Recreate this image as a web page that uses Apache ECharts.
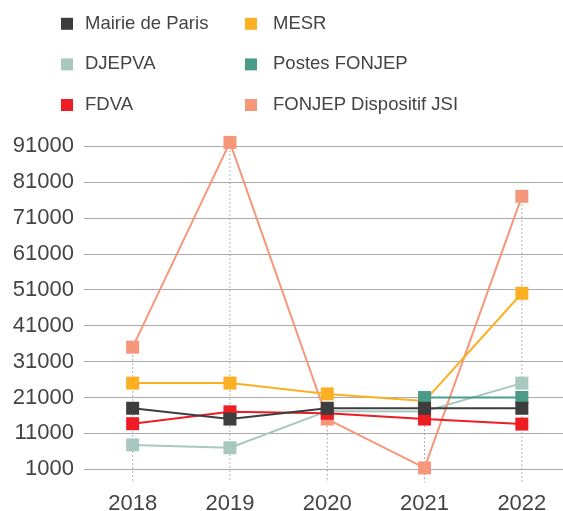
<!DOCTYPE html>
<html><head><meta charset="utf-8">
<script src="https://cdn.jsdelivr.net/npm/echarts@6/dist/echarts.min.js"></script>
<style>html,body{margin:0;padding:0;background:#fff}#c{width:563px;height:511px}</style>
</head><body><div id="c"></div>
<script>
// ---- data ----
const years = ['2018', '2019', '2020', '2021', '2022'];
const mairie = [18000, 15000, 18000, 18000, 18000];
const mesr = [25000, 25000, 22000, 20000, 50000];
const djepva = [7800, 7000, 17200, 17100, 25000];
const postes = [null, null, null, 21000, 21000];
const fdva = [13700, 17000, 16600, 15000, 13600];
const jsi = [35000, 92000, 15000, 1400, 77000];
const yMin = 1000, yMax = 91000, yStep = 10000;
const legendCol1 = ['Mairie de Paris', 'DJEPVA', 'FDVA'];
const legendCol2 = ['MESR', 'Postes FONJEP', 'FONJEP Dispositif JSI'];

const FONT = 'Liberation Sans, Arial, Helvetica, sans-serif';
const defs = [
  {name: 'Mairie de Paris', data: mairie, color: '#3d3d3d', z: 7},
  {name: 'MESR', data: mesr, color: '#fbb024', z: 4},
  {name: 'DJEPVA', data: djepva, color: '#a8c8bf', z: 2},
  {name: 'Postes FONJEP', data: postes, color: '#4a9c89', z: 5},
  {name: 'FDVA', data: fdva, color: '#ee1c25', z: 6},
  {name: 'FONJEP Dispositif JSI', data: jsi, color: '#f5977a', z: 3}
];
const maxVals = years.map((_, i) => Math.max(...defs.map(d => d.data[i]).filter(v => v != null)));

const lineSeries = defs.map(d => ({
  name: d.name, type: 'line', data: d.data, z: d.z, clip: false,
  symbol: 'rect', symbolSize: 13, showAllSymbol: true,
  itemStyle: {color: d.color, opacity: 1},
  lineStyle: {color: d.color, width: 2},
  emphasis: {disabled: true}
}));

const legendBase = {
  orient: 'vertical', icon: 'rect', itemWidth: 12, itemHeight: 12, itemGap: 20.6,
  selectedMode: false, top: 8.8,
  textStyle: {fontFamily: FONT, fontSize: 18.5, color: '#444', lineHeight: 20}
};

const chart = echarts.init(document.getElementById('c'), null, {renderer: 'canvas'});
chart.setOption({
  animation: false,
  backgroundColor: '#fff',
  legend: [
    Object.assign({}, legendBase, {left: 56, data: legendCol1,
      textStyle: Object.assign({}, legendBase.textStyle, {padding: [0, 0, 0, 7]})}),
    Object.assign({}, legendBase, {left: 240, data: legendCol2,
      textStyle: Object.assign({}, legendBase.textStyle, {padding: [0, 0, 0, 11]})})
  ],
  grid: {left: 84, width: 486.5, top: 146, bottom: 41.67, containLabel: false,
    outerBoundsMode: 'none'},
  xAxis: {
    type: 'category', data: years, boundaryGap: true,
    axisLine: {show: false}, axisTick: {show: false}, splitLine: {show: false},
    axisLabel: {fontFamily: FONT, fontSize: 22, color: '#444', margin: 24}
  },
  yAxis: {
    type: 'value', min: yMin, max: yMax, interval: yStep,
    axisLine: {show: false}, axisTick: {show: false},
    axisLabel: {fontFamily: FONT, fontSize: 22, color: '#444', margin: 10,
      formatter: v => String(v)},
    splitLine: {lineStyle: {color: '#aaa', width: 1}}
  },
  series: [{
    type: 'custom', z: 1, silent: true, clip: false,
    data: years.map((y, i) => [i, maxVals[i]]),
    encode: {x: 0, y: 1},
    renderItem: function (params, api) {
      const top = api.coord([api.value(0), api.value(1)]);
      const base = api.coord([api.value(0), yMin]);
      return {type: 'line', shape: {x1: top[0], y1: top[1], x2: top[0], y2: base[1] + 13},
        style: {stroke: '#999', lineWidth: 1, lineDash: [1.5, 2.5]}};
    }
  }].concat(lineSeries)
});
</script></body></html>
